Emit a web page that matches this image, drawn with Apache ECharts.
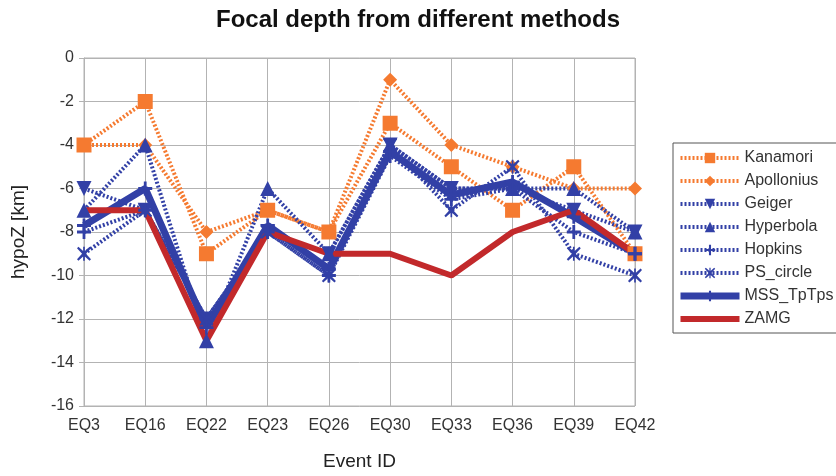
<!DOCTYPE html>
<html>
<head>
<meta charset="utf-8">
<script src="https://cdn.jsdelivr.net/npm/echarts@6/dist/echarts.min.js"></script>
<style>
  html, body { margin: 0; padding: 0; background: #ffffff; }
  #chart { width: 836px; height: 476px; }
</style>
</head>
<body>
<div id="chart"></div>
<script>
// Event IDs along the x axis
const events = ['EQ3', 'EQ16', 'EQ22', 'EQ23', 'EQ26', 'EQ30', 'EQ33', 'EQ36', 'EQ39', 'EQ42'];

// Hypocentre depth (km, negative downward) per method
const kanamori   = [-4, -2, -9, -7, -8, -3, -5, -7, -5, -9];
const apollonius = [-4, -4, -8, -7, -8, -1, -4, -5, -6, -6];
const geiger     = [-6, -7, -12, -8, -9, -4, -6, -6, -7, -8];
const hyperbola  = [-7, -4, -13, -6, -9, -4, -6, -6, -6, -8];
const hopkins    = [-8, -7, -12, -8, -10, -4.5, -6.5, -6, -8, -9];
const psCircle   = [-9, -7, -12, -8, -10, -4, -7, -5, -9, -10];
const mssTpTps   = [-7.7, -6, -12.4, -7.7, -9.7, -4.3, -6.3, -5.7, -7.3, -9];
const zamg       = [-7, -7, -13, -8, -9, -9, -10, -8, -7, -9];

const ORANGE = '#f57a30';
const BLUE = '#3240a6';
const RED = '#c2292b';
const DOTS = [2, 2];
const FONT = 'Liberation Sans, Arial, sans-serif';

const plusPath = 'path://M4,0H6V4H10V6H6V10H4V6H0V4H4Z';
const crossPath = 'path://M1,0L5,3.6L9,0L10,1L6.4,5L10,9L9,10L5,6.4L1,10L0,9L3.6,5L0,1Z M4.4,0H5.6V10H4.4Z';

function dotted(name, data, color, symbol, size, rotate) {
  return {
    name, type: 'line', data,
    symbol, symbolSize: size, symbolRotate: rotate || 0,
    lineStyle: { color, width: 4, type: DOTS, cap: 'butt' },
    itemStyle: { color, borderWidth: 0 },
    emphasis: { disabled: true }
  };
}

const chart = echarts.init(document.getElementById('chart'), null, { renderer: 'canvas' });

chart.setOption({
  animation: false,
  backgroundColor: '#ffffff',
  textStyle: { fontFamily: FONT },
  title: {
    text: 'Focal depth from different methods',
    left: 'center', top: 3,
    textStyle: { fontSize: 24, fontWeight: 'bold', color: '#111', fontFamily: FONT }
  },
  legend: {
    orient: 'vertical',
    left: 673, top: 143,
    padding: [7, 10, 6, 4],
    borderColor: '#555', borderWidth: 1,
    itemWidth: 59, itemHeight: 13, itemGap: 7,
    textStyle: { fontSize: 16, lineHeight: 16, color: '#333' },
    lineStyle: { width: 'inherit' },
    data: [
      'Kanamori', 'Apollonius', 'Geiger', 'Hyperbola', 'Hopkins', 'PS_circle', 'MSS_TpTps',
      { name: 'ZAMG', itemStyle: { opacity: 0 } }
    ]
  },
  grid: {
    left: 84, right: 201, top: 58, bottom: 69,
    show: true, borderColor: '#b3b3b3', borderWidth: 1
  },
  xAxis: {
    type: 'category', data: events, boundaryGap: false,
    name: 'Event ID', nameLocation: 'middle', nameGap: 46,
    nameTextStyle: { fontSize: 19, color: '#222' },
    axisLine: { lineStyle: { color: '#b3b3b3' } },
    axisTick: { show: true, length: 5, lineStyle: { color: '#b3b3b3' } },
    axisLabel: { fontSize: 16, color: '#333', margin: 12 },
    splitLine: { show: true, lineStyle: { color: '#b3b3b3', width: 1 } }
  },
  yAxis: {
    type: 'value', min: -16, max: 0, interval: 2,
    name: 'hypoZ [km]', nameLocation: 'middle', nameGap: 56, nameRotate: 90,
    nameTextStyle: { fontSize: 19, color: '#222' },
    axisLine: { show: true, lineStyle: { color: '#b3b3b3' } },
    axisTick: { show: true, length: 5, lineStyle: { color: '#b3b3b3' } },
    axisLabel: { fontSize: 16, color: '#333', margin: 10 },
    splitLine: { show: true, lineStyle: { color: '#b3b3b3', width: 1 } }
  },
  series: [
    dotted('Kanamori', kanamori, ORANGE, 'rect', 15),
    dotted('Apollonius', apollonius, ORANGE, 'diamond', 14),
    dotted('Geiger', geiger, BLUE, 'triangle', 15, 180),
    dotted('Hyperbola', hyperbola, BLUE, 'triangle', 15),
    dotted('Hopkins', hopkins, BLUE, plusPath, 14),
    dotted('PS_circle', psCircle, BLUE, crossPath, 14),
    {
      name: 'MSS_TpTps', type: 'line', data: mssTpTps,
      symbol: plusPath, symbolSize: 14,
      lineStyle: { color: BLUE, width: 7 },
      itemStyle: { color: BLUE },
      emphasis: { disabled: true }
    },
    {
      name: 'ZAMG', type: 'line', data: zamg,
      symbol: 'none',
      lineStyle: { color: RED, width: 6 },
      itemStyle: { color: RED },
      emphasis: { disabled: true }
    }
  ]
});
</script>
</body>
</html>
